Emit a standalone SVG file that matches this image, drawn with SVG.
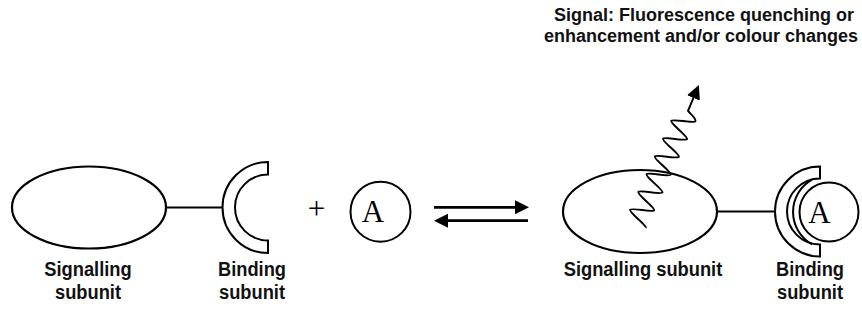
<svg xmlns="http://www.w3.org/2000/svg" width="862" height="325" viewBox="0 0 862 325">
  <style>
    .shape { fill: #fff; stroke: #000; stroke-width: 2.2; }
    .ring { fill: #fff; stroke: #000; stroke-width: 2; stroke-linejoin: miter; }
    .link { stroke: #000; stroke-width: 2; fill: none; }
    .rxn { stroke: #000; stroke-width: 2.7; fill: none; }
    .wave { stroke: #000; stroke-width: 2; fill: none; stroke-linejoin: round; }
    .label { font-family: "Liberation Sans", Arial, sans-serif; font-weight: bold; font-size: 20px; fill: #111; text-anchor: middle; }
    .title { font-family: "Liberation Sans", Arial, sans-serif; font-weight: bold; font-size: 18px; fill: #111; text-anchor: end; }
    .serif { font-family: "Liberation Serif", "Times New Roman", serif; fill: #000; text-anchor: middle; }
  </style>
  <defs>
    <marker id="head" viewBox="0 0 14 14" refX="0" refY="7" markerWidth="14" markerHeight="14" markerUnits="userSpaceOnUse" orient="auto">
      <path d="M0,0 L14,7 L0,14 Z" fill="#000"/>
    </marker>
  </defs>

  <rect width="862" height="325" fill="#fff"/>

  <!-- caption above the emitted signal -->
  <g id="signal-caption">
    <text class="title" x="854" y="21">Signal: Fluorescence quenching or</text>
    <text class="title" x="858" y="42">enhancement and/or colour changes</text>
  </g>

  <!-- free receptor: signalling subunit -->
  <g id="signalling-free">
    <ellipse class="shape" cx="89" cy="207.5" rx="77" ry="41"/>
    <text class="label" x="88" y="276" textLength="87.5" lengthAdjust="spacingAndGlyphs">Signalling</text>
    <text class="label" x="88" y="299" textLength="66" lengthAdjust="spacingAndGlyphs">subunit</text>
  </g>

  <!-- free receptor: binding subunit (open half ring) -->
  <g id="binding-free">
    <path class="ring" d="M268,162 A45.5,45.5 0 0 0 268,253 L268,240.5 A33,33 0 0 1 268,174.5 Z"/>
    <text class="label" x="252" y="276" textLength="68" lengthAdjust="spacingAndGlyphs">Binding</text>
    <text class="label" x="252" y="299" textLength="66" lengthAdjust="spacingAndGlyphs">subunit</text>
  </g>

  <g id="plus">
    <text class="serif" x="316.5" y="219" font-size="31">+</text>
  </g>

  <!-- analyte -->
  <g id="analyte">
    <circle class="ring" cx="380.5" cy="211.7" r="30" stroke-width="1.8"/>
    <text class="serif" x="373" y="221.7" font-size="31">A</text>
  </g>

  <!-- bound receptor: signalling subunit with emitted signal -->
  <g id="signalling-bound">
    <ellipse class="shape" cx="640" cy="211.5" rx="77" ry="41.5"/>
    <g transform="translate(636,223.4) rotate(-65.2)">
      <path class="wave" marker-end="url(#head)" d="M0,11 C2.8,11 7,-11 9.8,-11 S16.8,11 19.6,11 S26.6,-11 29.4,-11 S36.4,11 39.2,11 S46.2,-11 49,-11 S56,11 58.8,11 S65.8,-11 68.6,-11 S75.6,11 78.4,11 S85.4,-11 88.2,-11 S95.2,11 98,11 S105,-11 107.8,-11 S114.8,11 117.6,11 C121,11 122,3 124,0 L138,-0.5"/>
    </g>
    <text class="label" x="643" y="276" textLength="158.6" lengthAdjust="spacingAndGlyphs">Signalling subunit</text>
  </g>

  <!-- bound receptor: binding subunit holding the analyte -->
  <g id="binding-bound">
    <path class="ring" d="M820,166.5 A45,45 0 0 0 820,256.5 L820,244.5 A33,33 0 0 1 820,178.5 Z"/>
    <path class="link" d="M812,179.7 A37,37 0 0 0 812,244.3"/>
    <circle class="ring" cx="829" cy="212" r="29.5" stroke-width="1.8"/>
    <text class="serif" x="819.5" y="222.5" font-size="31">A</text>
    <text class="label" x="810" y="276" textLength="68" lengthAdjust="spacingAndGlyphs">Binding</text>
    <text class="label" x="810" y="299" textLength="66" lengthAdjust="spacingAndGlyphs">subunit</text>
  </g>

  <!-- connectors -->
  <g id="connectors">
    <line class="link" x1="166" y1="207.5" x2="223" y2="207.5"/>
    <line class="link" x1="717" y1="211.5" x2="775.5" y2="211.5"/>
    <line class="rxn" x1="434" y1="207.3" x2="515" y2="207.3" marker-end="url(#head)"/>
    <line class="rxn" x1="528" y1="220.7" x2="448" y2="220.7" marker-end="url(#head)"/>
  </g>
</svg>
